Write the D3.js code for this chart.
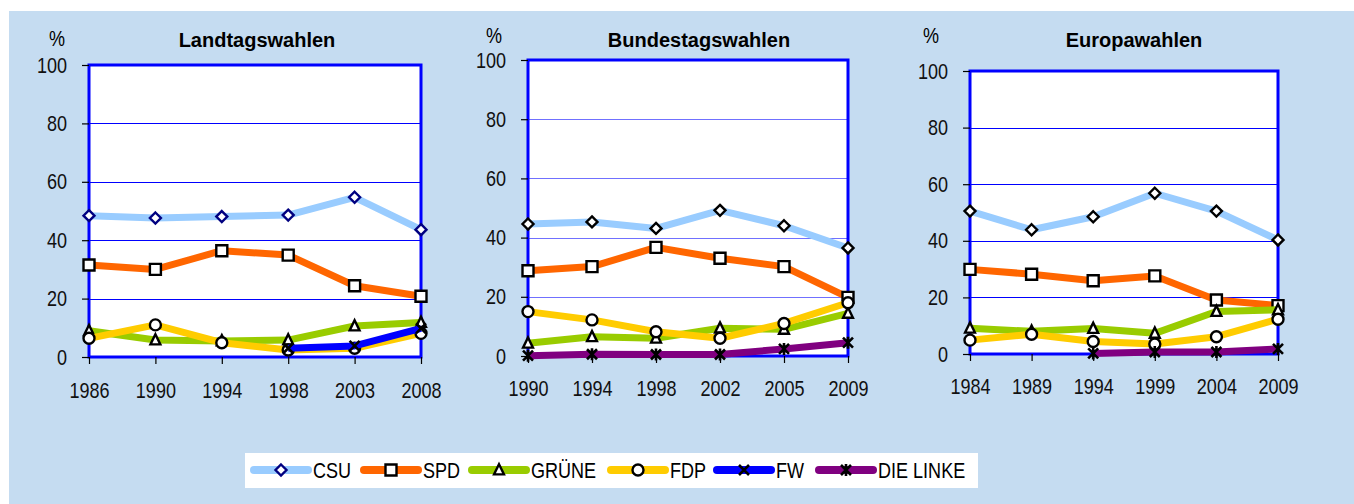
<!DOCTYPE html>
<html>
<head>
<meta charset="utf-8">
<script src="https://cdn.jsdelivr.net/npm/d3@7"></script>
<style>
  body { margin: 0; background: #fff; }
  svg { display: block; }
</style>
</head>
<body>
<div id="chart"></div>
<script>
// ---- data ----
var landYears = ["1986", "1990", "1994", "1998", "2003", "2008"];
var landCSU   = [48.4, 47.6, 48.1, 48.6, 54.7, 43.6];
var landSPD   = [31.5, 30.0, 36.4, 34.9, 24.4, 20.8];
var landGRUENE = [9.0, 5.8, 5.5, 5.8, 10.6, 11.8];
var landFDP   = [6.4, 11.0, 4.9, 2.4, 3.0, 8.1];
var landFW    = [null, null, null, 3.0, 3.8, 9.8];

var bundYears = ["1990", "1994", "1998", "2002", "2005", "2009"];
var bundCSU   = [44.6, 45.3, 43.1, 49.2, 44.0, 36.5];
var bundSPD   = [28.8, 30.2, 36.7, 33.0, 30.2, 19.8];
var bundGRUENE = [4.3, 6.5, 6.0, 9.4, 9.0, 14.4];
var bundFDP   = [15.0, 12.2, 8.2, 6.0, 11.0, 18.0];
var bundLINKE = [0.1, 0.6, 0.5, 0.5, 2.4, 4.5];

var euroYears = ["1984", "1989", "1994", "1999", "2004", "2009"];
var euroCSU   = [50.5, 43.9, 48.5, 56.8, 50.5, 40.3];
var euroSPD   = [29.9, 28.2, 25.9, 27.6, 19.1, 17.1];
var euroGRUENE = [9.1, 8.0, 9.0, 7.3, 15.0, 15.6];
var euroFDP   = [4.9, 7.0, 4.4, 3.5, 6.1, 12.3];
var euroLINKE = [null, null, 0.2, 0.7, 0.7, 1.8];

var yTicks = [0, 20, 40, 60, 80, 100];

// ---- series styles ----
var partyNames  = ["CSU", "SPD", "GRÜNE", "FDP", "FW", "DIE LINKE"];
var partyColors = ["#99ccff", "#ff6600", "#99cc00", "#ffcc00", "#0000ff", "#800080"];
var partyMarker = ["diamond", "square", "triangle", "circle", "x", "star"];

var W = 1354, H = 504;
var font = "'Liberation Sans', Arial, sans-serif";
var narrow = 0.82;   // the original uses a condensed face

var svg = d3.select("#chart").append("svg")
    .attr("width", W).attr("height", H);

// page background
svg.append("rect").attr("x", 9).attr("y", 11).attr("width", W - 9).attr("height", H - 11)
    .attr("fill", "#c5dcf1");

var panels = [
  { title: "Landtagswahlen", years: landYears,
    series: [landCSU, landSPD, landGRUENE, landFDP, landFW, null],
    x0: 89, x1: 421, y0: 65, y1: 357, titleX: 257, pctX: 57, pctY: 46, pad: 18,
    grid: "#0000ff", diamondStroke: "#000080" },
  { title: "Bundestagswahlen", years: bundYears,
    series: [bundCSU, bundSPD, bundGRUENE, bundFDP, null, bundLINKE],
    x0: 528, x1: 848, y0: 60, y1: 356, titleX: 699, pctX: 494, pctY: 43, pad: 17,
    grid: "#7070ff", diamondStroke: "#000" },
  { title: "Europawahlen", years: euroYears,
    series: [euroCSU, euroSPD, euroGRUENE, euroFDP, null, euroLINKE],
    x0: 970, x1: 1278, y0: 71, y1: 354, titleX: 1134, pctX: 931, pctY: 43, pad: 17,
    grid: "#0000ff", diamondStroke: "#000" }
];

function markerPath(type, s) {
  if (type === "diamond") return "M0," + (-s) + "L" + s + ",0L0," + s + "L" + (-s) + ",0Z";
  if (type === "square") return "M" + (-s) + "," + (-s) + "h" + (2 * s) + "v" + (2 * s) + "h" + (-2 * s) + "Z";
  if (type === "triangle") return "M0," + (-s) + "L" + (s * 0.85) + "," + (s * 0.75) + "L" + (-s * 0.85) + "," + (s * 0.75) + "Z";
  if (type === "x") return "M" + (-s) + "," + (-s) + "L" + s + "," + s + "M" + s + "," + (-s) + "L" + (-s) + "," + s;
  if (type === "star") return "M" + (-s) + "," + (-s) + "L" + s + "," + s + "M" + s + "," + (-s) + "L" + (-s) + "," + s + "M0," + (-s * 1.2) + "L0," + (s * 1.2);
  return null;
}

function drawMarker(g, type, x, y, stroke) {
  if (type === "circle") {
    g.append("circle").attr("cx", x).attr("cy", y).attr("r", 5.5)
      .attr("fill", "#fff").attr("stroke", "#000").attr("stroke-width", 2.4);
    return;
  }
  var size = { diamond: 5.5, square: 5.5, triangle: 5.8, x: 5, star: 5 }[type];
  var open = (type === "x" || type === "star");
  g.append("path")
    .attr("transform", "translate(" + x + "," + y + ")")
    .attr("d", markerPath(type, size))
    .attr("fill", open ? "none" : "#fff")
    .attr("stroke", stroke || "#000")
    .attr("stroke-width", open ? 2.6 : 2.4);
}

// squeeze text horizontally, keeping its anchor point
function squeeze(sel) {
  sel.each(function() {
    var t = d3.select(this);
    var x = +t.attr("x") || 0;
    t.attr("x", x / narrow).attr("transform", "scale(" + narrow + ",1)");
  });
}

panels.forEach(function(p) {
  var g = svg.append("g");

  var x = d3.scalePoint().domain(p.years).range([p.x0, p.x1]).padding(0);
  var y = d3.scaleLinear().domain([0, 100]).range([p.y1, p.y0]);

  // plot area
  g.append("rect").attr("x", p.x0).attr("y", p.y0)
    .attr("width", p.x1 - p.x0).attr("height", p.y1 - p.y0)
    .attr("fill", "#fff");

  // gridlines
  g.selectAll("line.grid").data(yTicks.slice(1, -1)).enter().append("line")
    .attr("x1", p.x0).attr("x2", p.x1)
    .attr("y1", function(d) { return Math.round(y(d)) + 0.5; })
    .attr("y2", function(d) { return Math.round(y(d)) + 0.5; })
    .attr("stroke", p.grid).attr("stroke-width", 1);

  // frame
  g.append("rect").attr("x", p.x0).attr("y", p.y0)
    .attr("width", p.x1 - p.x0).attr("height", p.y1 - p.y0)
    .attr("fill", "none").attr("stroke", "#0000ff").attr("stroke-width", 3);

  // y axis
  var yAxis = g.append("g").attr("transform", "translate(" + p.x0 + ",0)")
    .call(d3.axisLeft(y).tickValues(yTicks).tickSize(7).tickPadding(15));
  yAxis.select(".domain").remove();
  yAxis.selectAll("line").attr("stroke", "#000").attr("stroke-width", 1.2);
  yAxis.selectAll("text").attr("font-family", font).attr("font-size", 22).attr("fill", "#111")
    .call(squeeze);

  // x axis
  var xAxis = g.append("g").attr("transform", "translate(0," + p.y1 + ")")
    .call(d3.axisBottom(x).tickSize(7).tickPadding(p.pad));
  xAxis.select(".domain").remove();
  xAxis.selectAll("line").attr("stroke", "#000").attr("stroke-width", 1.2);
  xAxis.selectAll("text").attr("font-family", font).attr("font-size", 22).attr("fill", "#111")
    .call(squeeze);

  // title and unit
  g.append("text").attr("x", p.titleX).attr("y", 47)
    .attr("text-anchor", "middle").attr("font-family", font)
    .attr("font-weight", "bold").attr("font-size", 20).attr("fill", "#000")
    .text(p.title);
  g.append("text").attr("transform", "translate(" + p.pctX + "," + p.pctY + ") scale(" + narrow + ",1)")
    .attr("text-anchor", "middle").attr("font-family", font)
    .attr("font-size", 22).attr("fill", "#000").text("%");

  // series
  var line = d3.line()
    .defined(function(d) { return d.v !== null; })
    .x(function(d) { return x(d.year); })
    .y(function(d) { return y(d.v); });

  p.series.forEach(function(vals, i) {
    if (!vals) return;
    var pts = vals.map(function(v, k) { return { year: p.years[k], v: v }; });
    g.append("path").datum(pts)
      .attr("d", line)
      .attr("fill", "none")
      .attr("stroke", partyColors[i])
      .attr("stroke-width", 7)
      .attr("stroke-linejoin", "round");
    var mg = g.append("g");
    pts.forEach(function(d) {
      if (d.v === null) return;
      drawMarker(mg, partyMarker[i], x(d.year), y(d.v), i === 0 ? p.diamondStroke : "#000");
    });
  });
});

// ---- legend ----
var legend = svg.append("g");
legend.append("rect").attr("x", 245).attr("y", 453).attr("width", 733).attr("height", 35)
  .attr("fill", "#fff");
var legX = [250, 360, 468, 607, 713, 815];
partyNames.forEach(function(name, i) {
  var lx = legX[i], ly = 470;
  legend.append("line").attr("x1", lx + 4).attr("x2", lx + 58)
    .attr("y1", ly).attr("y2", ly)
    .attr("stroke", partyColors[i]).attr("stroke-width", 8).attr("stroke-linecap", "round");
  drawMarker(legend, partyMarker[i], lx + 31, ly, i === 0 ? "#000080" : "#000");
  legend.append("text")
    .attr("transform", "translate(" + (lx + 63) + "," + (ly + 8) + ") scale(" + narrow + ",1)")
    .attr("font-family", font).attr("font-size", 22).attr("fill", "#000")
    .text(name);
});
</script>
</body>
</html>
